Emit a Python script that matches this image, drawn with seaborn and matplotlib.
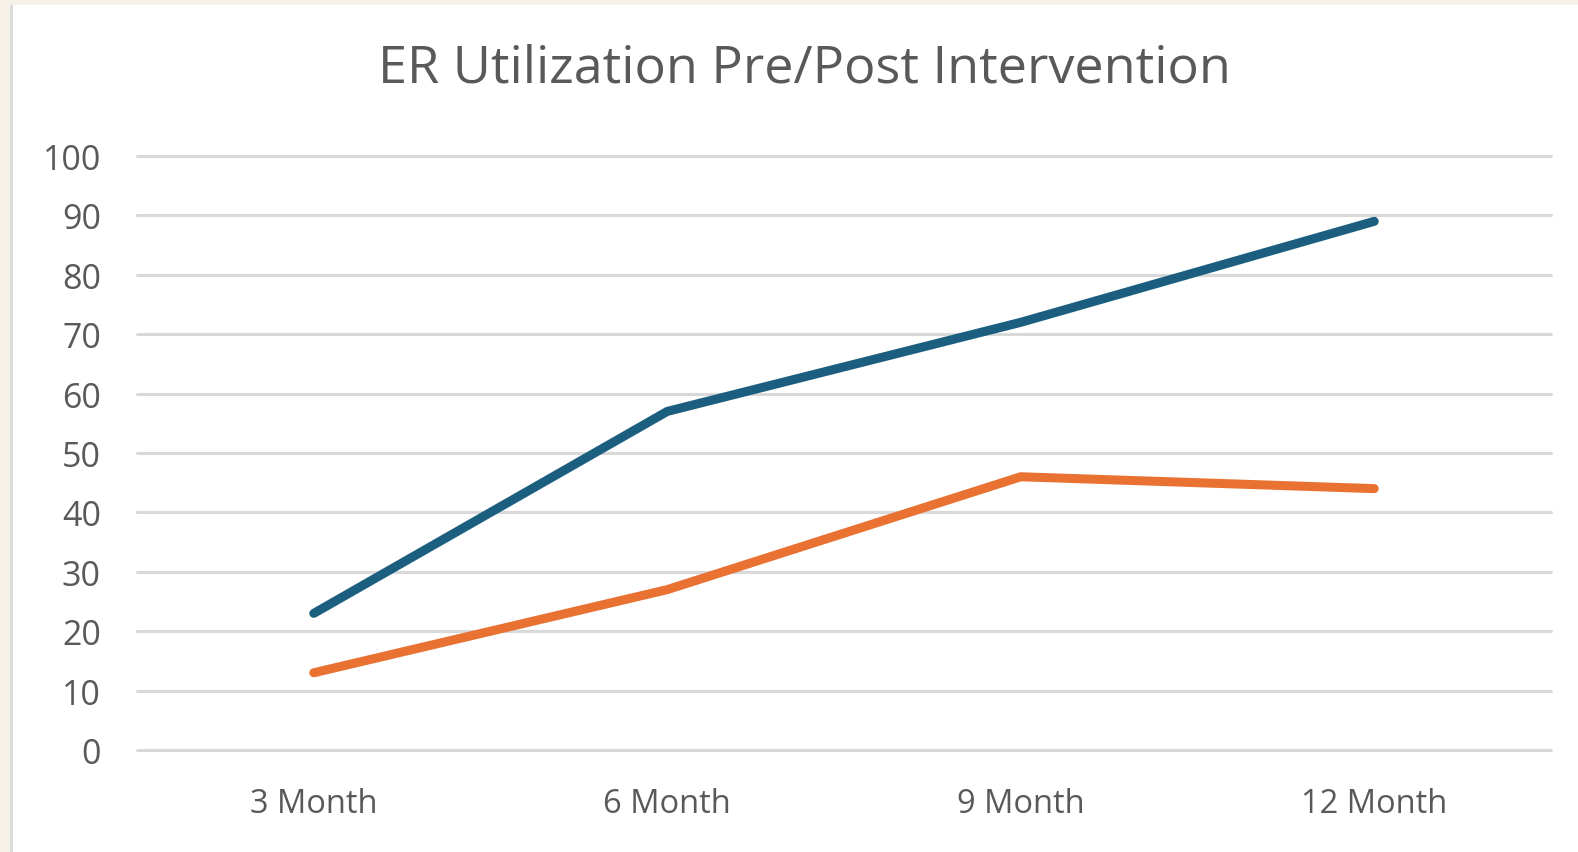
import pandas as pd
import matplotlib.pyplot as plt
import matplotlib.patches as patches
import seaborn as sns

periods = ["3 Month", "6 Month", "9 Month", "12 Month"]
pre_values = [23, 57, 72, 89]
post_values = [13, 27, 46, 44]
series_names = ["Pre", "Post"]
y_ticks = [0, 10, 20, 30, 40, 50, 60, 70, 80, 90, 100]
title = "ER Utilization Pre/Post Intervention"

df = pd.DataFrame({
    "Period": periods * 2,
    "Value": pre_values + post_values,
    "Series": [series_names[0]] * len(periods) + [series_names[1]] * len(periods),
})
df["x"] = df.Period.map({p: i for i, p in enumerate(periods)})

sns.set_theme(style="white")
plt.rcParams['font.family'] = ['Open Sans', 'DejaVu Sans']

text_col = "#595959"
grid_col = "#D9D9D9"

fig = plt.figure(figsize=(15.78, 8.53), dpi=100, facecolor="#F5F0E8")
# white chart area with grey left edge
fig.patches.append(patches.Rectangle((13 / 1578, 0), 1, 1 - 6 / 853, transform=fig.transFigure,
                                     facecolor="white", edgecolor="none", zorder=-10))
fig.patches.append(patches.Rectangle((10 / 1578, 0), 3 / 1578, 1 - 6 / 853, transform=fig.transFigure,
                                     facecolor="#DCDCDC", edgecolor="none", zorder=-10))

ax = fig.add_axes([137 / 1578, 1 - 751 / 853, (1551 - 137) / 1578, (751 - 157) / 853])
ax.set_facecolor("none")

for v in y_ticks:
    ax.axhline(v, color=grid_col, lw=2.2, zorder=0)

sns.lineplot(data=df, x="x", y="Value", hue="Series", palette=["#1B5E7F", "#E97132"],
             linewidth=6.5, legend=False, ax=ax, solid_capstyle="round", zorder=3)

ax.set_xlim(-0.5, 3.5)
ax.set_ylim(0, 100)
ax.set_xticks(range(len(periods)))
ax.set_xticklabels(periods)
ax.set_yticks(y_ticks)
ax.set_xlabel("")
ax.set_ylabel("")
for s in ax.spines.values():
    s.set_visible(False)
ax.tick_params(axis="y", length=0, pad=26, labelsize=24.5, labelcolor=text_col)
ax.tick_params(axis="x", length=0, pad=27, labelsize=23.5, labelcolor=text_col)
for l in ax.lines:
    l.set_clip_on(False)

fig.text(0.51, 0.919, title, ha="center", va="center", fontsize=37.5, color=text_col)

plt.savefig("out.png", dpi=100, facecolor=fig.get_facecolor())
